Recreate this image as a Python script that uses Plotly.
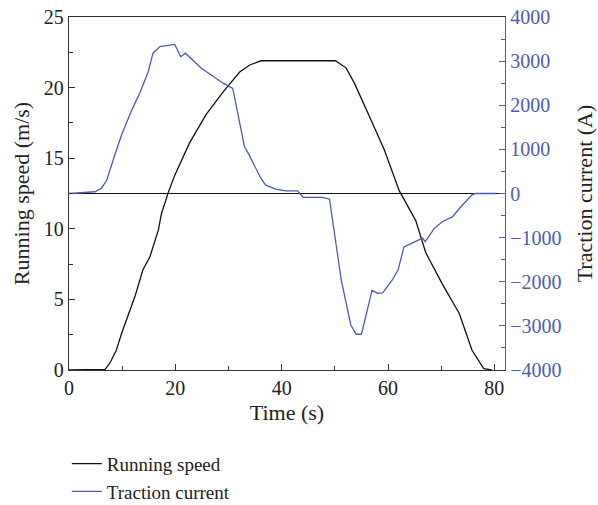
import plotly.graph_objects as go

# ---- data ----
time_speed = [0, 5, 6.8, 7.7, 8.9, 9.9, 11.1, 12.4, 13.9, 15.2, 16.8, 17.4, 18.2, 18.6,
              19.9, 22.7, 25.8, 29, 32.1, 34, 36.1, 50.1, 52.1, 53.7, 56.8, 59.3, 62.1,
              65.2, 67.1, 70.2, 73.4, 75.8, 78, 79.5]
speed = [0, 0, 0.05, 0.5, 1.4, 2.6, 3.8, 5.2, 7.1, 8.0, 9.9, 11.1, 12.0, 12.5,
         13.8, 16.1, 18.1, 19.7, 21.1, 21.6, 21.9, 21.9, 21.4, 20.3, 17.7, 15.6, 12.7,
         10.6, 8.3, 6.1, 4.0, 1.4, 0.1, 0]

time_current = [0, 4.9, 6.1, 7.1, 8.3, 9.9, 11.8, 13.3, 14.9, 15.8, 17.1, 19.9, 21, 21.9,
                24.9, 27.1, 29, 30.8, 33, 33.9, 36.1, 37, 38.9, 40.8, 43, 44, 47.7, 49,
                51.2, 53, 54, 55, 57, 58, 59, 60.8, 61.9, 63, 65.2, 66.5, 67, 68.7, 70.2,
                72.1, 73.7, 75.8, 76.5, 80.2]
current = [0, 40, 120, 300, 760, 1330, 1890, 2270, 2760, 3180, 3330, 3380, 3100, 3180,
           2840, 2650, 2500, 2380, 1060, 870, 340, 190, 100, 60, 60, -90, -90, -130,
           -1960, -2980, -3190, -3190, -2190, -2260, -2250, -1960, -1730, -1210, -1090,
           -1010, -1090, -790, -640, -530, -300, -30, 0, 0]

BLUE = "#4b5cb8"
FONT = "Liberation Serif"

fig = go.Figure()
fig.add_trace(go.Scatter(x=time_speed, y=speed, name="Running speed", mode="lines",
                         line=dict(color="#111111", width=1.3), yaxis="y"))
fig.add_trace(go.Scatter(x=time_current, y=current, name="Traction current", mode="lines",
                         line=dict(color=BLUE, width=1.3), yaxis="y2"))

fig.update_layout(
    width=598, height=505,
    margin=dict(l=69, r=93, t=17, b=135, autoexpand=False),
    paper_bgcolor="white", plot_bgcolor="white",
    font=dict(family=FONT, size=18, color="#222222"),
    showlegend=True,
    legend=dict(x=-0.005, y=-0.212, xanchor="left", yanchor="top",
                bgcolor="rgba(0,0,0,0)", font=dict(size=19, family=FONT, color="#222222"),
                tracegroupgap=0, itemwidth=30),
    xaxis=dict(range=[0, 82], tickvals=[0, 20, 40, 60, 80], ticks="inside", ticklen=6,
               tickcolor="#333333", showline=True, linecolor="#333333", linewidth=1.3,
               mirror=True, showgrid=False, zeroline=False,
               minor=dict(tickvals=[10, 30, 50, 70], ticks="inside", ticklen=4, tickcolor="#333333"),
               title=dict(text="Time (s)", standoff=6), tickfont=dict(size=20)),
    yaxis=dict(range=[0, 25], tickvals=[0, 5, 10, 15, 20, 25], ticks="inside", ticklen=6,
               tickcolor="#333333", showline=True, linecolor="#333333", linewidth=1.3,
               showgrid=False, zeroline=False,
               minor=dict(tickvals=[2.5, 7.5, 12.5, 17.5, 22.5], ticks="inside", ticklen=4,
                          tickcolor="#333333"),
               title=dict(text="Running speed (m/s)", standoff=8), tickfont=dict(size=20)),
    yaxis2=dict(range=[-4000, 4000], overlaying="y", side="right",
                tickvals=[-4000, -3000, -2000, -1000, 0, 1000, 2000, 3000, 4000],
                ticktext=["\u22124000", "\u22123000", "\u22122000", "\u22121000", "0",
                          "1000", "2000", "3000", "4000"],
                ticks="inside", ticklen=6, tickcolor=BLUE,
                showline=True, linecolor=BLUE, linewidth=1.3, showgrid=False,
                zeroline=True, zerolinecolor="#111111", zerolinewidth=1.3,
                minor=dict(tickvals=[-3500, -2500, -1500, -500, 500, 1500, 2500, 3500],
                           ticks="inside", ticklen=4, tickcolor=BLUE),
                tickfont=dict(size=20, color=BLUE),
                title=dict(text="Traction current (A)", standoff=16,
                           font=dict(color="#222222"))),
)

fig.write_html("out.html")
